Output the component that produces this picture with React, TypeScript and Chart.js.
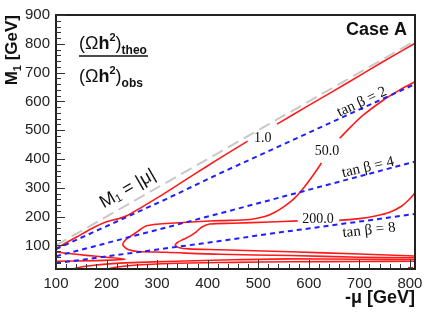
import { useEffect, useRef } from "react";
import { Chart, registerables } from "chart.js";

Chart.register(...registerables);

// ---- axes ----
const X_TICKS = [100, 200, 300, 400, 500, 600, 700, 800];
const Y_TICKS = [100, 200, 300, 400, 500, 600, 700, 800, 900];
const X_MIN = 100;
const X_MAX = 810;
const Y_MIN = 18;
const Y_MAX = 900;

// ---- reference lines (-mu, M1) ----
const diagonal = [[100, 100], [810, 810]];
const tanBeta2 = [[100, 87], [317, 260], [424, 350], [810, 660]];
const tanBeta4 = [[100, 62], [424, 211], [810, 391]];
const tanBeta8 = [[100, 38], [424, 115], [513, 138], [810, 209]];

// ---- contour 1.0 ----
const contour1Low = [[100, 90], [140, 128], [170, 158], [200, 182], [222, 192], [240, 203], [270, 233], [317, 283], [370, 343], [424, 403], [479, 462]];
const contour1High = [[537, 521], [600, 586], [680, 668], [744, 735], [810, 802]];

// ---- contour 50.0 ----
const contour50Low = [[810, 57], [700, 59], [563, 65], [424, 69], [317, 76], [262, 79], [244, 85], [235, 95], [232, 104], [236, 116], [245, 129], [257, 143], [268, 157], [279, 168], [296, 173], [317, 176], [385, 183], [424, 186], [484, 190], [513, 200], [533, 215], [553, 237], [573, 266], [590, 300], [607, 340], [625, 386]];
const contour50High = [[661, 472], [685, 515], [708, 553], [747, 604], [780, 640], [810, 668]];

// ---- contour 200.0 ----
const contour200Low = [[810, 63], [700, 70], [563, 78], [424, 85], [362, 88], [344, 92], [336, 100], [340, 110], [352, 121], [365, 132], [378, 148], [388, 163], [404, 174], [450, 177], [523, 181], [578, 185]];
const contour200High = [[660, 187], [700, 193], [734, 203], [760, 215], [783, 236], [800, 262], [810, 282]];

// ---- low-M1 contours ----
const wedge = [[100, 77], [140, 69], [180, 62], [237, 52], [180, 47], [100, 45]];
const bandA = [[134, 18], [150, 25], [175, 31], [199, 35], [250, 40], [337, 45], [450, 50], [563, 53], [700, 52], [810, 51]];
const bandB = [[200, 18], [225, 26], [260, 32], [337, 38], [450, 41], [563, 43], [700, 44], [810, 45]];
const stub = [[796, 20], [806, 20]];

// ---- in-plot labels (data coords) ----
const CONTOUR_LABELS = [
  { text: "1.0", x: 509, y: 471, rot: 0 },
  { text: "50.0", x: 636, y: 428, rot: 0 },
  { text: "200.0", x: 618, y: 189, rot: 0 },
  { text: "tan β = 2", x: 705, y: 598, rot: -25 },
  { text: "tan β = 4", x: 717, y: 371, rot: -13 },
  { text: "tan β = 8", x: 719, y: 152, rot: -6 },
];

const RED = "#ff1a1a";
const BLUE = "#1f1fff";
const GRAY = "#c8c8c8";

const toXY = (arr: number[][]) => arr.map(([x, y]) => ({ x, y }));

function line(data: number[][], color: string, width: number, dash: number[] = [], tension = 0.3) {
  return {
    data: toXY(data),
    showLine: true,
    borderColor: color,
    backgroundColor: color,
    borderWidth: width,
    borderDash: dash,
    pointRadius: 0,
    tension,
    fill: false,
  };
}

type Part = { t: string; f: string; dy?: number };

function drawParts(ctx: CanvasRenderingContext2D, parts: Part[], x: number, y: number, align: "left" | "center" | "right", rotDeg = 0) {
  ctx.save();
  ctx.translate(x, y);
  ctx.rotate((rotDeg * Math.PI) / 180);
  let w = 0;
  for (const p of parts) {
    ctx.font = p.f;
    w += ctx.measureText(p.t).width;
  }
  let cx = align === "left" ? 0 : align === "center" ? -w / 2 : -w;
  ctx.textAlign = "left";
  for (const p of parts) {
    ctx.font = p.f;
    ctx.fillText(p.t, cx, p.dy || 0);
    cx += ctx.measureText(p.t).width;
  }
  ctx.restore();
}

const decorPlugin = {
  id: "decor",
  afterDatasetsDraw(chart: any) {
    const { ctx, chartArea: a, scales } = chart;
    const xs = scales.x;
    const ys = scales.y;
    ctx.save();
    // frame
    ctx.strokeStyle = "#222";
    ctx.lineWidth = 2;
    ctx.strokeRect(a.left, a.top, a.right - a.left, a.bottom - a.top);
    // inward ticks
    ctx.lineWidth = 1;
    ctx.strokeStyle = "#333";
    ctx.beginPath();
    for (let v = 100; v <= 800; v += 20) {
      const px = Math.round(xs.getPixelForValue(v)) + 0.5;
      const len = v % 100 === 0 ? 9 : 5;
      ctx.moveTo(px, a.bottom);
      ctx.lineTo(px, a.bottom - len);
    }
    for (let v = 20; v <= 900; v += 20) {
      const py = Math.round(ys.getPixelForValue(v)) + 0.5;
      const len = v % 100 === 0 ? 9 : 5;
      ctx.moveTo(a.left, py);
      ctx.lineTo(a.left + len, py);
    }
    ctx.stroke();

    // contour / tan beta labels
    ctx.fillStyle = "#111";
    ctx.textBaseline = "middle";
    for (const l of CONTOUR_LABELS) {
      const px = xs.getPixelForValue(l.x);
      const py = ys.getPixelForValue(l.y);
      const size = l.text.startsWith("tan") ? 15 : 14;
      drawParts(ctx, [{ t: l.text, f: `${size}px "Liberation Serif", serif` }], px, py, "center", l.rot);
    }
    // M1 = |mu|
    drawParts(
      ctx,
      [
        { t: "M", f: '18px "Liberation Sans", Arial, sans-serif' },
        { t: "1", f: '11px "Liberation Sans", Arial, sans-serif', dy: 4 },
        { t: " = |μ|", f: '18px "Liberation Sans", Arial, sans-serif' },
      ],
      xs.getPixelForValue(242),
      ys.getPixelForValue(296),
      "center",
      -30
    );

    // fraction
    ctx.textBaseline = "alphabetic";
    const big = '18px "Liberation Sans", Arial, sans-serif';
    const bigB = 'bold 18px "Liberation Sans", Arial, sans-serif';
    const sup = 'bold 11px "Liberation Sans", Arial, sans-serif';
    const sub = 'bold 12px "Liberation Sans", Arial, sans-serif';
    const fx = a.left + 23;
    drawParts(ctx, [
      { t: "(", f: big }, { t: "Ω", f: big }, { t: "h", f: bigB }, { t: "2", f: sup, dy: -8 }, { t: ")", f: big }, { t: "theo", f: sub, dy: 5 },
    ], fx, a.top + 34, "left");
    ctx.strokeStyle = "#111";
    ctx.lineWidth = 1.5;
    ctx.beginPath();
    ctx.moveTo(fx, a.top + 41);
    ctx.lineTo(fx + 69, a.top + 41);
    ctx.stroke();
    drawParts(ctx, [
      { t: "(", f: big }, { t: "Ω", f: big }, { t: "h", f: bigB }, { t: "2", f: sup, dy: -8 }, { t: ")", f: big }, { t: "obs", f: sub, dy: 5 },
    ], fx, a.top + 67, "left");

    // Case A
    drawParts(ctx, [{ t: "Case A", f: 'bold 18px "Liberation Sans", Arial, sans-serif' }], a.right - 8, a.top + 20, "right");

    // axis titles
    ctx.fillStyle = "#111";
    drawParts(ctx, [
      { t: "-μ [GeV]", f: 'bold 18px "Liberation Sans", Arial, sans-serif' },
    ], a.right, 303, "right");
    drawParts(ctx, [
      { t: "M", f: 'bold 17px "Liberation Sans", Arial, sans-serif' },
      { t: "1", f: 'bold 11px "Liberation Sans", Arial, sans-serif', dy: 4 },
      { t: " [GeV]", f: 'bold 17px "Liberation Sans", Arial, sans-serif' },
    ], 17, a.top, "right", -90);
    ctx.restore();
  },
};

export default function App() {
  const ref = useRef<HTMLCanvasElement | null>(null);
  useEffect(() => {
    if (!ref.current) return;
    const tickFont = { family: '"Liberation Sans", Arial, sans-serif', size: 15 };
    const chart = new Chart(ref.current, {
      type: "scatter",
      data: {
        datasets: [
          line(diagonal, GRAY, 2, [12, 6], 0),
          line(tanBeta2, BLUE, 2, [5, 4], 0),
          line(tanBeta4, BLUE, 2, [5, 4], 0),
          line(tanBeta8, BLUE, 2, [5, 4], 0),
          line(contour1Low, RED, 1.6),
          line(contour1High, RED, 1.6),
          line(contour50Low, RED, 1.6),
          line(contour50High, RED, 1.6),
          line(contour200Low, RED, 1.6),
          line(contour200High, RED, 1.6),
          line(wedge, RED, 1.6, [], 0.2),
          line(bandA, RED, 1.6),
          line(bandB, RED, 1.6),
          line(stub, RED, 3, [], 0),
        ] as any,
      },
      options: {
        responsive: false,
        animation: false,
        layout: { padding: { top: 12, right: 18, left: 0, bottom: 0 } },
        plugins: { legend: { display: false }, tooltip: { enabled: false } },
        scales: {
          x: {
            type: "linear",
            min: X_MIN,
            max: X_MAX,
            bounds: "data",
            grid: { display: false, drawTicks: false },
            border: { display: false },
            ticks: { font: tickFont, color: "#222", padding: 6, autoSkip: false, maxRotation: 0, callback: (v: any) => String(v) },
            afterBuildTicks: (s: any) => { s.ticks = X_TICKS.map((v) => ({ value: v })); },
            afterFit: (s: any) => { s.height = 45; },
          },
          y: {
            type: "linear",
            min: Y_MIN,
            max: Y_MAX,
            bounds: "data",
            grid: { display: false, drawTicks: false },
            border: { display: false },
            ticks: { font: tickFont, color: "#222", padding: 6, autoSkip: false, callback: (v: any) => String(v) },
            afterBuildTicks: (s: any) => { s.ticks = Y_TICKS.map((v) => ({ value: v })); },
            afterFit: (s: any) => { s.width = 56; },
          },
        },
      } as any,
      plugins: [decorPlugin],
    });
    return () => chart.destroy();
  }, []);
  return (
    <div style={{ position: "absolute", left: 0, top: 0, width: 433, height: 314, background: "#fff" }}>
      <canvas ref={ref} width={433} height={314} style={{ display: "block" }} />
    </div>
  );
}
